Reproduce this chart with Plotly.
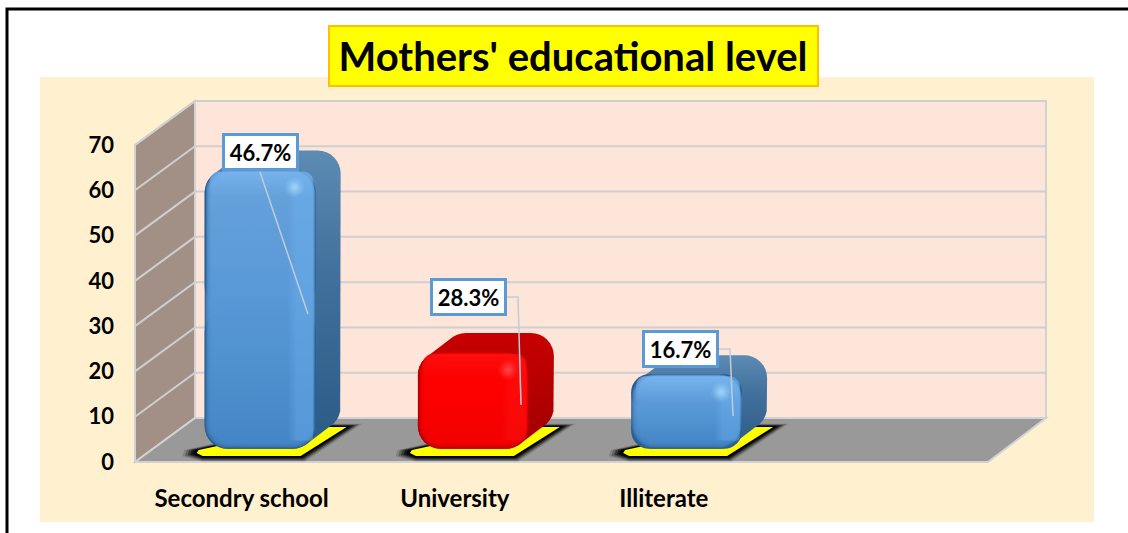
import math
import plotly.graph_objects as go

# ---------- data ----------
categories = ["Secondry school", "University", "Illiterate", " "]
tick_positions = [0, 1, 1.98, 3]
bar_x = [0, 1, 2]
bar_heights = [61.7, 21.4, 16.5]      # drawn height
bar_base = 2.9                        # bars stand on the 3-D floor
bar_labels = ["46.7%", "28.3%", "16.7%"]
y_ticks = [0, 10, 20, 30, 40, 50, 60, 70]
title_text = "Mothers' educational level"

# ---------- frame geometry (pixels) ----------
W, H = 1128, 533
L, R, T, B = 135, 988, 145, 462
DX_WALL, DY_WALL = 60, -44
DX_BAR, DY_BAR = 25, -19
BAR_W = 111 / 213.25
BAR_SHIFT = 18.5 / 213.25
RAD = 23
FONT = "Lato"

sx = (R - L) / 4
sy = (B - T) / 70
px_x = lambda v: L + (v + 0.5) * sx
px_y = lambda v: B - v * sy
dat_x = lambda p: (p - L) / sx - 0.5
dat_y = lambda p: (B - p) / sy
pap_x = lambda p: (p - L) / (R - L)
pap_y = lambda p: (B - p) / (B - T)


def poly_path(pts):
    return "M" + "L".join(f"{pap_x(a):.5f},{pap_y(b):.5f}" for a, b in pts) + "Z"


def wall(pts, fill, line="#d2d2d2", w=2):
    return dict(type="path", xref="paper", yref="paper", path=poly_path(pts), fillcolor=fill,
                line=dict(color=line, width=w), layer="below")


def seg(pts, color, w=2, layer="below"):
    path = "M" + "L".join(f"{pap_x(a):.5f},{pap_y(b):.5f}" for a, b in pts)
    return dict(type="path", xref="paper", yref="paper", path=path,
                line=dict(color=color, width=w), layer=layer)


def rrect(x0, x1, y0, y1, r, n=8):
    r = min(r, (x1 - x0) / 2, (y1 - y0) / 2)
    pts = []
    for cx, cy, a0 in [(x1 - r, y0 + r, -90), (x1 - r, y1 - r, 0), (x0 + r, y1 - r, 90), (x0 + r, y0 + r, 180)]:
        for k in range(n + 1):
            a = math.radians(a0 + 90 * k / n)
            pts.append((cx + r * math.cos(a), cy + r * math.sin(a)))
    return pts


def hull(points):
    p = sorted(set(points))
    cross = lambda o, a, b: (a[0] - o[0]) * (b[1] - o[1]) - (a[1] - o[1]) * (b[0] - o[0])
    lo, up = [], []
    for q in p:
        while len(lo) > 1 and cross(lo[-2], lo[-1], q) <= 0:
            lo.pop()
        lo.append(q)
    for q in reversed(p):
        while len(up) > 1 and cross(up[-2], up[-1], q) <= 0:
            up.pop()
        up.append(q)
    return lo[:-1] + up[:-1]


def poly_trace(pts, color=None, grad=None, gtype="vertical", axes=("x", "y")):
    xs = [dat_x(a) for a, _ in pts] + [dat_x(pts[0][0])]
    ys = [dat_y(b) for _, b in pts] + [dat_y(pts[0][1])]
    kw = dict(x=xs, y=ys, mode="lines", fill="toself", line=dict(width=0), hoverinfo="skip",
              showlegend=False, xaxis=axes[0], yaxis=axes[1])
    if grad:
        kw["fillgradient"] = dict(type=gtype, colorscale=grad)
        kw["fillcolor"] = "rgba(0,0,0,0)"
    else:
        kw["fillcolor"] = color
    return go.Scatter(**kw)


def rgba(rgb, a):
    return f"rgba({rgb[0]},{rgb[1]},{rgb[2]},{a})"


BLUE = dict(edge="#2a5f92", low=(70, 135, 200), midc=(90, 155, 218), high=(106, 165, 222),
            hull=[[0, "#2c5a86"], [0.6, "#41719c"], [1, "#5c8bb4"]], band=(125, 185, 245),
            stripe=(110, 178, 240), glow=(175, 225, 255))
RED = dict(edge="#b40000", low=(245, 0, 0), midc=(255, 0, 0), high=(255, 0, 0),
           hull=[[0, "#a00000"], [1, "#c80000"]], band=(255, 20, 20),
           stripe=(255, 20, 20), glow=(255, 90, 90))
palettes = [BLUE, RED, BLUE]

traces_under, traces_over = [], []
for i, (xv, h) in enumerate(zip(bar_x, bar_heights)):
    pal = palettes[i]
    cx = px_x(xv + BAR_SHIFT)
    x0, x1 = cx - BAR_W * sx / 2, cx + BAR_W * sx / 2
    y1 = px_y(bar_base)
    y0 = px_y(bar_base + h)

    def foot(e):
        return [(x0 - 8 - 1.3 * e, 453 + 0.3 * e), (x0 - 2, 456 + 0.5 * e), (x1 - 15 + 0.4 * e, 456 + 0.5 * e),
                (x1 + 31 + 1.4 * e, 427 - 0.3 * e), (x1 - 10, 427 - 0.3 * e), (x0 - 6 - 1.3 * e, 450)]

    for e, a in [(11, 0.15), (9, 0.25), (7, 0.4), (5, 0.6), (3, 0.8), (1.5, 0.9)]:
        traces_under.append(poly_trace(foot(e), f"rgba(0,0,0,{a})"))
    traces_under.append(poly_trace(foot(0), "#ffff00"))

    front = rrect(x0, x1, y0, y1, RAD)
    back = rrect(x0 + DX_BAR, x1 + DX_BAR, y0 + DY_BAR, y1 + DY_BAR, RAD)
    traces_under.append(poly_trace(hull(front + back), grad=pal["hull"]))

    ov = ("x2", "y2")
    # soft bevel: stacked translucent faces shrinking toward the centre
    for k in range(1, 8):
        a = 0.38
        face = [[0, rgba(pal["low"], a)], [0.55, rgba(pal["midc"], a)], [1, rgba(pal["high"], a)]]
        traces_over.append(poly_trace(rrect(x0 + k, x1 - 0.45 * k, y0 + 0.4 * k, y1 - k, RAD - 0.5 * k),
                                      grad=face, axes=ov))
    band_h = 28
    traces_over.append(poly_trace(rrect(x0 + 5, x1 - 3, y0 + 2, y0 + band_h, 9),
                                  grad=[[0, rgba(pal["band"], 0)], [0.55, rgba(pal["band"], 0.35)], [1, rgba(pal["band"], 0.7)]],
                                  axes=ov))
    traces_over.append(poly_trace(rrect(x1 - 28, x1 - 2, y0 + 6, y1 - 8, 4),
                                  grad=[[0, rgba(pal["stripe"], 0)], [0.35, rgba(pal["stripe"], 0.4)], [1, rgba(pal["stripe"], 0.4)]],
                                  gtype="horizontal", axes=ov))
    gx, gy = x1 - 21, y0 + 18
    for r, a in [(10, 0.1), (8, 0.15), (6, 0.2), (4, 0.3), (2, 0.3)]:
        traces_over.append(poly_trace(rrect(gx - r, gx + r, gy - r, gy + r, r, 6), rgba(pal["glow"], a), axes=ov))

# each bar is a pair of halves from its middle so all four corners are rounded
mids = [bar_base + h / 2 for h in bar_heights]
edge_colors = [p["edge"] for p in palettes]
bar_common = dict(x=bar_x, base=mids, width=BAR_W, offset=-BAR_W / 2 + BAR_SHIFT, xaxis="x2", yaxis="y2",
                  marker=dict(color=edge_colors, line=dict(width=0), cornerradius=RAD),
                  showlegend=False, hoverinfo="skip")
bars_up = go.Bar(y=[h / 2 for h in bar_heights], **bar_common)
bars_down = go.Bar(y=[-h / 2 for h in bar_heights], **bar_common)

fig = go.Figure(traces_under + [bars_up, bars_down] + traces_over)

# ---------- background, walls, gridlines ----------
shapes = [
    dict(type="rect", xref="paper", yref="paper", x0=pap_x(40), x1=pap_x(1094), y0=pap_y(522), y1=pap_y(77),
         fillcolor="#fff1cf", line=dict(width=0), layer="below"),
    seg([(7, 533), (7, 9), (1128, 9)], "#000000", 3),
    dict(type="rect", xref="paper", yref="paper", x0=pap_x(329), x1=pap_x(818), y0=pap_y(86), y1=pap_y(26),
         fillcolor="#ffff00", line=dict(color="#ffc000", width=2), layer="below"),
    wall([(L + DX_WALL, B + DY_WALL), (R + DX_WALL - 2, B + DY_WALL), (R + DX_WALL - 2, T + DY_WALL), (L + DX_WALL, T + DY_WALL)], "#fee5d9"),
    wall([(L, B), (L + DX_WALL, B + DY_WALL), (L + DX_WALL, T + DY_WALL), (L, T)], "#a29087"),
    wall([(L, B), (R, B), (R + DX_WALL - 2, B + DY_WALL), (L + DX_WALL, B + DY_WALL)], "#999999"),
]
for t in y_ticks[1:]:
    yy = px_y(t)
    shapes.append(seg([(L, yy), (L + DX_WALL, yy + DY_WALL), (R + DX_WALL - 2, yy + DY_WALL)], "#d0cece", 2))

# ---------- data labels and leader lines ----------
label_boxes = [(260, 152), (468, 297), (680, 349)]
leaders = [[(260, 172), (308, 314)],
           [(507, 297), (518, 297), (521, 405)],
           [(718, 349), (730, 349), (733, 416)]]
for pts in leaders:
    shapes.append(seg(pts, "#c3ccd6", 1.5, "above"))

annotations = []
for (bx, by), text in zip(label_boxes, bar_labels):
    annotations.append(dict(xref="paper", yref="paper", x=pap_x(bx), y=pap_y(by), text=f"<b>{text}</b>",
                            showarrow=False, xanchor="center", yanchor="middle", width=71, height=32,
                            bgcolor="#ffffff", bordercolor="#5b9bd5", borderwidth=3, borderpad=0,
                            font=dict(family=FONT, size=22, color="#000000")))

fig.update_layout(
    width=W, height=H, autosize=False,
    margin=dict(l=L, r=W - R, t=T, b=H - B, pad=0),
    paper_bgcolor="#ffffff", plot_bgcolor="rgba(0,0,0,0)",
    showlegend=False, barmode="overlay",
    shapes=shapes, annotations=annotations,
    title=dict(text=f"<b>{title_text}</b>", x=573 / W, xref="container",
               xanchor="center", y=1 - 57 / H, yref="container", yanchor="middle",
               font=dict(family=FONT, size=40, color="#000000")),
    xaxis=dict(range=[-0.5, 3.5], tickmode="array", tickvals=tick_positions, ticktext=[f"<b>{c}</b>" for c in categories],
               showgrid=False, zeroline=False, showline=False, ticks="", ticklabelstandoff=20,
               tickfont=dict(family=FONT, size=24, color="#000000"), fixedrange=True),
    yaxis=dict(range=[0, 70], tickmode="array", tickvals=y_ticks, ticktext=[f"<b>{t}</b>" for t in y_ticks],
               showgrid=False, zeroline=False, showline=False, ticks="", ticklabelstandoff=20,
               tickfont=dict(family=FONT, size=22, color="#000000"), fixedrange=True),
    xaxis2=dict(range=[-0.5, 3.5], overlaying="x", visible=False, fixedrange=True),
    yaxis2=dict(range=[0, 70], overlaying="y", visible=False, fixedrange=True),
)

fig.write_html("out.html", post_script="document.body.style.margin='0';document.body.style.overflow='hidden';",
               config=dict(displayModeBar=False))
